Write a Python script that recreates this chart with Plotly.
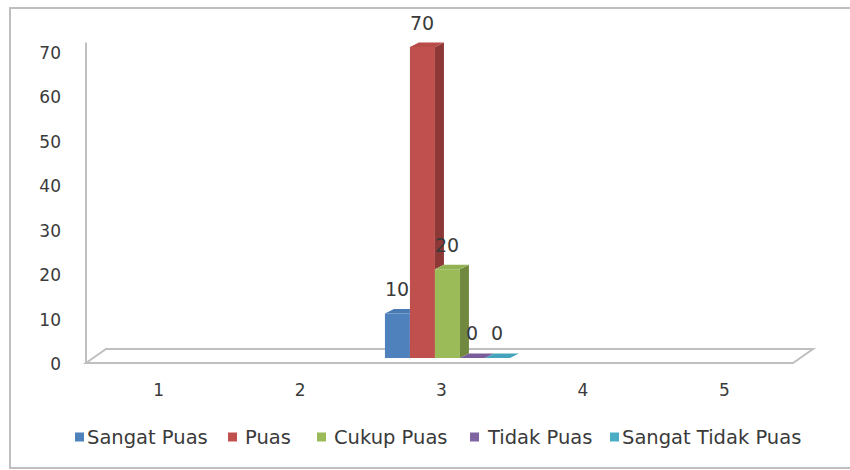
import plotly.graph_objects as go

# --- data -------------------------------------------------------------
categories = [1, 2, 3, 4, 5]
series_names = ["Sangat Puas", "Puas", "Cukup Puas", "Tidak Puas", "Sangat Tidak Puas"]
sangat_puas = [None, None, 10, None, None]
puas = [None, None, 70, None, None]
cukup_puas = [None, None, 20, None, None]
tidak_puas = [None, None, 0, None, None]
sangat_tidak_puas = [None, None, 0, None, None]
y_ticks = [0, 10, 20, 30, 40, 50, 60, 70]

series_values = [sangat_puas, puas, cukup_puas, tidak_puas, sangat_tidak_puas]

# --- styling ----------------------------------------------------------
front_colors = ["#4F81BD", "#C0504D", "#9BBB59", "#8064A2", "#4BACC6"]
side_colors = ["#385D8A", "#8C3836", "#71893F", "#5C4776", "#31859C"]
top_colors = ["#4A7AB3", "#B84B48", "#93B254", "#7A5E9C", "#46A3BC"]
text_color = "#3A3A3A"
font_family = "DejaVu Sans"

W, H = 850, 470
M_L, M_R, M_T, M_B = 70, 25, 30, 105
plot_w = W - M_L - M_R
plot_h = H - M_T - M_B

# horizontal scale: category 0.5 sits at pixel 88, 141.4 px per category
px_per_cat = 141.4
x_origin_px = 88
x_range = [0.5 + (M_L - x_origin_px) / px_per_cat,
           0.5 + (W - M_R - x_origin_px) / px_per_cat]
y_range = [-1.58, 73.83]

x_per_px = 1 / px_per_cat
y_per_px = (y_range[1] - y_range[0]) / plot_h

bar_w = 25 * x_per_px           # width of one column
group_off = -0.40               # left edge of first column relative to category
depth_x = 9 * x_per_px          # 3D depth, horizontal part
depth_y = 4.5 * y_per_px        # 3D depth, vertical part


def paper_x(px):
    return (px - M_L) / plot_w


def paper_y(py):
    return (H - M_B - py) / plot_h


fig = go.Figure()

# front faces of the columns
for i, (name, vals) in enumerate(zip(series_names, series_values)):
    fig.add_trace(go.Bar(
        x=categories, y=vals, name=name,
        offset=group_off + i * bar_w, width=bar_w,
        marker=dict(color=front_colors[i], line=dict(width=0)),
        hoverinfo="skip", showlegend=False,
    ))

# side and top faces, clipped where the next column hides them
annotations = []
for i, vals in enumerate(series_values):
    nxt = series_values[i + 1] if i + 1 < len(series_values) else [None] * len(categories)
    for c, v, vn in zip(categories, vals, nxt):
        if v is None:
            continue
        L = c + group_off + i * bar_w
        R = L + bar_w
        base = vn if (vn is not None and vn > 0) else 0
        if base < v:
            fig.add_trace(go.Scatter(
                x=[R, R + depth_x, R + depth_x, R, R],
                y=[base, base + depth_y, v + depth_y, v, base],
                mode="lines", fill="toself", fillcolor=side_colors[i],
                line=dict(width=0), showlegend=False, hoverinfo="skip",
            ))
        if vn is not None and vn >= v + depth_y:
            tx = [L, L + depth_x, R, R, L]
        else:
            tx = [L, L + depth_x, R + depth_x, R, L]
        ty = [v, v + depth_y, v + depth_y, v, v]
        fig.add_trace(go.Scatter(
            x=tx, y=ty, mode="lines", fill="toself", fillcolor=top_colors[i],
            line=dict(width=0), showlegend=False, hoverinfo="skip",
        ))
        annotations.append(dict(
            x=(L + R) / 2, y=v + depth_y, xref="x", yref="y",
            text=str(v), showarrow=False, yanchor="bottom", yshift=7,
            font=dict(family=font_family, size=19, color=text_color),
        ))

# floor outline and back-wall edge
fl_front = -1.13
fl_back = fl_front + 14 * y_per_px
fl_dx = 20 * x_per_px
fl_x0 = 0.5 - 2 * x_per_px
fl_x1 = 5.5 - 2 * x_per_px
floor_path = (f"M {fl_x0},{fl_front} L {fl_x0 + fl_dx},{fl_back} "
              f"L {fl_x1 + fl_dx},{fl_back} L {fl_x1},{fl_front} Z")
shapes = [
    dict(type="path", path=floor_path, xref="x", yref="y",
         line=dict(color="#BFBFBF", width=2), fillcolor="rgba(0,0,0,0)", layer="below"),
    dict(type="line", xref="x", yref="y", x0=fl_x0, x1=fl_x0, y0=fl_front, y1=70 + depth_y,
         line=dict(color="#BFBFBF", width=2), layer="below"),
    # chart border (right edge runs off the canvas)
    dict(type="rect", xref="paper", yref="paper",
         x0=paper_x(10), x1=paper_x(900), y0=paper_y(468), y1=paper_y(8),
         line=dict(color="#BFBFBF", width=2), fillcolor="rgba(0,0,0,0)", layer="below"),
]

# legend along the bottom: coloured square + label
legend_text_x = [87, 245, 334, 487, 622]
legend_sq_gap = [3, 8, 8, 8, 3]
legend_y = 437
for i, name in enumerate(series_names):
    tx = legend_text_x[i]
    gap = legend_sq_gap[i]
    shapes.append(dict(
        type="rect", xref="paper", yref="paper",
        x0=paper_x(tx - gap - 9), x1=paper_x(tx - gap),
        y0=paper_y(legend_y + 4.5), y1=paper_y(legend_y - 4.5),
        fillcolor=front_colors[i], line=dict(width=0),
    ))
    annotations.append(dict(
        x=paper_x(tx - 2), y=paper_y(legend_y), xref="paper", yref="paper",
        text=name, showarrow=False, xanchor="left", yanchor="middle",
        font=dict(family=font_family, size=19.5, color=text_color),
    ))

fig.update_layout(
    width=W, height=H,
    margin=dict(l=M_L, r=M_R, t=M_T, b=M_B),
    paper_bgcolor="white", plot_bgcolor="white",
    barmode="overlay",
    showlegend=False,
    xaxis=dict(range=x_range, tickvals=categories, ticktext=[str(c) for c in categories],
               showgrid=False, zeroline=False, showline=False, ticks="",
               ticklabelstandoff=13,
               tickfont=dict(family=font_family, size=17, color=text_color)),
    yaxis=dict(range=y_range, tickvals=y_ticks, showgrid=False, zeroline=False,
               showline=False, ticks="", ticklabelstandoff=8, ticklabelshift=6,
               tickfont=dict(family=font_family, size=17, color=text_color)),
    annotations=annotations,
    shapes=shapes,
)

fig.write_html("out.html")
